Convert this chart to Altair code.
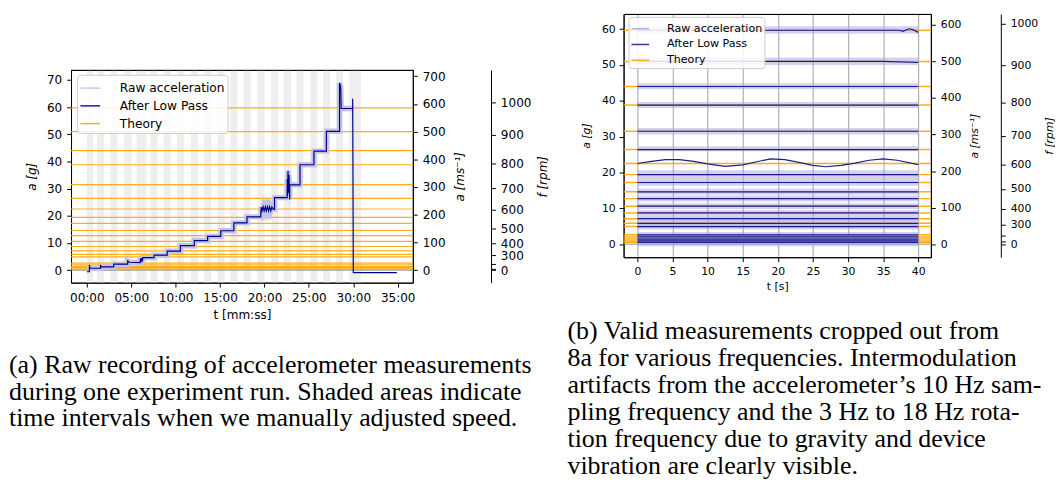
import altair as alt
import pandas as pd

FONT = "DejaVu Sans"
SERIF = "Liberation Serif"
CDOM = ["Raw acceleration", "After Low Pass", "Theory"]
G0 = 9.81            # m/s^2 per g
K_RPM = 61.565e-6    # g per rpm^2 (a = K f^2)

# ---------------- (a) raw recording (t in minutes, a in g) ----------------
lp_points_a = [
    (0.0, -0.6), (0.29, -0.6), (0.29, 1.9), (0.34, 0.7), (1.55, 0.7), (1.55, 1.9), (1.6, 1.2),
    (3.03, 1.2), (3.03, 2.2), (4.6, 2.2), (4.6, 3.4), (4.8, 2.9), (6.0, 2.8), (6.03, 4.3),
    (6.09, 2.9), (6.16, 4.5), (6.24, 3.2), (6.32, 4.6), (7.57, 4.6), (7.57, 5.5), (9.05, 5.5),
    (9.05, 7.0), (10.53, 7.0), (10.53, 9.0), (12.1, 9.0), (12.1, 10.9), (13.6, 10.9), (13.6, 12.4),
    (15.08, 12.4), (15.08, 14.5), (16.55, 14.5), (16.55, 17.4), (18.03, 17.4), (18.03, 19.6),
    (19.58, 19.6), (19.62, 23.2), (19.72, 21.8), (19.85, 23.3), (19.96, 21.8), (20.1, 23.3),
    (20.2, 21.8), (20.34, 23.3), (20.45, 21.8), (20.58, 23.3), (20.7, 21.8), (20.84, 23.2),
    (21.0, 22.4), (21.13, 22.4), (21.13, 26.7), (22.55, 26.7), (22.56, 33.5), (22.6, 27.5),
    (22.65, 36.6), (22.7, 28.5), (22.76, 35.0), (22.8, 30.5), (22.84, 26.0), (22.84, 31.4),
    (24.0, 31.4), (24.0, 38.8), (25.57, 38.8), (25.57, 43.8), (26.97, 43.8), (26.97, 51.1),
    (28.45, 51.1), (28.45, 68.9), (28.58, 67.5), (28.64, 59.5), (29.93, 59.5), (29.93, 63.1),
    (30.0, -0.9), (34.9, -0.9),
]
raw_points_a = lp_points_a[2:-3]

shade_start = [0.0, 1.15, 2.65, 4.2, 5.6, 7.15, 8.65, 10.15, 11.7, 13.2, 14.7, 16.15, 17.65,
               19.2, 20.75, 22.15, 23.6, 25.15, 26.6, 28.05, 29.55]
shade_end = [0.7, 1.95, 3.45, 5.0, 6.7, 7.95, 9.45, 10.95, 12.5, 14.0, 15.5, 16.95, 18.45,
             20.0, 21.55, 23.0, 24.4, 25.95, 27.4, 28.85, 30.85]

theory_g = [59.7, 51.0, 44.0, 38.8, 31.5, 26.4, 22.5, 19.4, 17.2, 14.6, 12.7, 10.6, 8.7, 7.1,
            5.8, 4.9, 2.6, 2.0, 1.4, 0.9, 0.5]

# axis limits (data units)
TDOM_A = [-1.78, 36.7]     # minutes
GDOM_A = [-4.6, 73.7]      # g
TDOM_B = [-1.97, 41.8]     # seconds
GDOM_B = [-3.66, 64.24]    # g

# ---------------- (b) valid 40 s crops (t in seconds, a in g) ----------------
crop_t = [0, 40]
raw_lo_b = [58.7, 50.0, 43.2, 38.0, 30.6, 25.9, 18.2, 16.3, 13.8, 11.9, 9.8, 7.9, 6.3, 5.0,
            4.1, 1.8, 1.2, 0.4, -0.1, -0.6]
raw_hi_b = [60.8, 52.1, 44.9, 39.7, 32.4, 27.3, 20.6, 18.2, 15.5, 13.6, 11.4, 9.5, 7.9, 6.6,
            5.7, 3.4, 2.9, 2.3, 1.9, 1.5]
flat_levels_b = [44.0, 38.8, 31.5, 26.4, 19.4, 17.2, 14.6, 12.7, 10.6, 8.7, 7.1, 5.8, 4.9,
                 2.6, 2.0, 1.4, 0.9, 0.5]
lp60_t = [0, 37.3, 37.8, 38.7, 39.3, 40]
lp60_g = [59.7, 59.7, 59.4, 60.1, 59.8, 59.1]
lp51_t = [0, 35, 40]
lp51_g = [51.0, 51.0, 50.7]
lp22_t = [0, 2, 4, 6, 8, 10, 12.5, 15, 17, 19, 21, 23, 25, 26.8, 29, 31, 33, 35, 37, 40]
lp22_g = [22.5, 23.1, 23.6, 23.6, 23.1, 22.4, 21.7, 22.1, 23.0, 23.8, 23.6, 22.8, 22.0, 21.6,
          22.0, 22.6, 23.4, 23.8, 23.4, 22.2]

ms_ticks_a = [0, 100, 200, 300, 400, 500, 600, 700]
ms_ticks_b = [0, 100, 200, 300, 400, 500, 600]
rpm_ticks = [0, 100, 200, 300, 400, 500, 600, 700, 800, 900, 1000]

caption_a = ["(a) Raw recording of accelerometer measurements",
             "during one experiment run.  Shaded areas indicate",
             "time intervals when we manually adjusted speed."]
caption_b = ["(b) Valid measurements cropped out from",
             "8a for various frequencies. Intermodulation",
             "artifacts from the accelerometer’s 10 Hz sam-",
             "pling frequency and the 3 Hz to 18 Hz rota-",
             "tion frequency due to gravity and device",
             "vibration are clearly visible."]


def sgn_sqrt(v):
    return (abs(v) / K_RPM) ** 0.5 * (1 if v >= 0 else -1)


# ---------------- tables ----------------
lp_a = pd.DataFrame({"t": [p[0] for p in lp_points_a], "g": [p[1] for p in lp_points_a],
                     "series": "After Low Pass"})
lp_a["i"] = range(len(lp_a))
raw_a = pd.DataFrame({"t": [p[0] for p in raw_points_a], "g": [p[1] for p in raw_points_a],
                      "series": "Raw acceleration"})
raw_a["i"] = range(len(raw_a))
shade_a = pd.DataFrame({"t": shade_start, "t2": shade_end, "g": GDOM_A[0], "g2": GDOM_A[1]})


def theory_table(tdom):
    d = pd.DataFrame({"g": theory_g, "t": tdom[0], "t2": tdom[1], "series": "Theory"})
    d["ms"] = d["g"] * G0
    d["rpm"] = [sgn_sqrt(v) for v in d["g"]]
    return d


theory_a = theory_table(TDOM_A)
theory_b = theory_table(TDOM_B)
zero_a = pd.DataFrame({"g": [0.0], "t": TDOM_A[0], "t2": TDOM_A[1]})
zero_b = pd.DataFrame({"g": [0.0], "t": TDOM_B[0], "t2": TDOM_B[1]})

raw_b = pd.DataFrame({"t": crop_t[0], "t2": crop_t[1], "g": raw_lo_b, "g2": raw_hi_b,
                      "series": "Raw acceleration"})
rows = []
for k, L in enumerate(flat_levels_b):
    rows.append({"level": f"f{k}", "t": crop_t[0], "g": L, "i": 0})
    rows.append({"level": f"f{k}", "t": crop_t[1], "g": L, "i": 1})
for name, ts, gs in [("l60", lp60_t, lp60_g), ("l51", lp51_t, lp51_g), ("l22", lp22_t, lp22_g)]:
    for j, (t, g) in enumerate(zip(ts, gs)):
        rows.append({"level": name, "t": t, "g": g, "i": j})
lp_b = pd.DataFrame(rows)
lp_b["series"] = "After Low Pass"

AX = dict(labelFont=FONT, titleFont=FONT, labelColor="black", titleColor="black",
          tickColor="black", domainColor="black", tickSize=4.5, tickWidth=1, domainWidth=1,
          labelOverlap=False, labelFlush=False, titleFontWeight="normal")
RPM_EXPR = "datum.value == 100 || datum.value == 200 ? '' : datum.label"
TOP_BORDER = alt.Axis(orient="top", ticks=False, labels=False, domain=True, domainColor="black",
                      domainWidth=1, title=None, grid=False, zindex=1)


def legend(fs, x, y, size, rowpad, offset, pad):
    return alt.Legend(title=None, orient="none", legendX=x, legendY=y, symbolType="stroke",
                      symbolSize=size, symbolStrokeWidth=1.5, labelFont=FONT, labelFontSize=fs,
                      labelColor="black", labelOffset=offset, rowPadding=rowpad, padding=pad,
                      strokeColor="#cccccc", fillColor="rgba(255,255,255,0.85)", cornerRadius=3)


def sc(dom):
    return alt.Scale(domain=dom, nice=False, zero=False)


def right_axes(ms_ticks, fs, ms_pad, rpm_off, rpm_pad):
    ms_ax = alt.Axis(orient="right", values=ms_ticks, title="a [ms⁻¹]", titleFontStyle="italic",
                     labelFontSize=fs, titleFontSize=fs, titlePadding=ms_pad, labelPadding=5,
                     titleAngle=270, titleBaseline="top", grid=False, **AX)
    rpm_ax = alt.Axis(orient="right", offset=rpm_off, values=rpm_ticks, format="d",
                      labelExpr=RPM_EXPR, title="f [rpm]", titleFontStyle="italic",
                      labelFontSize=fs, titleFontSize=fs, titlePadding=rpm_pad, labelPadding=5,
                      titleAngle=270, titleBaseline="top", grid=False, **AX)
    return ms_ax, rpm_ax


# ================= panel (a) =================
xax_a = alt.Axis(values=list(range(0, 36, 5)),
                 labelExpr="(datum.value < 10 ? '0' : '') + datum.value + ':00'",
                 title="t [mm:ss]", labelFontSize=12.2, titleFontSize=12.2, titlePadding=5,
                 labelPadding=5, grid=False, zindex=1, **AX)
yax_a = alt.Axis(orient="left", values=list(range(0, 71, 10)), title="a [g]",
                 titleFontStyle="italic", labelFontSize=12.2, titleFontSize=12.2,
                 titlePadding=8, labelPadding=5, grid=False, **AX)
ms_ax_a, rpm_ax_a = right_axes(ms_ticks_a, 12.2, 9, 79.4, 6)
cs_a = alt.Scale(domain=CDOM, range=["#c3c3e3", "#00008b", "#ffa500"])
leg_a = legend(12.4, 6, 5, 400, -3, 19, 2.5)


def Xa(axis=None):
    return alt.X("t:Q", scale=sc(TDOM_A), axis=axis)


def Ya(axis=None):
    return alt.Y("g:Q", scale=sc(GDOM_A), axis=axis)


Ca = alt.Color("series:N", scale=cs_a, legend=leg_a)

shade_l = alt.Chart(shade_a).mark_rect(color="#eeeeee").encode(
    x=Xa(xax_a), x2="t2:Q", y=Ya(yax_a), y2="g2:Q")
theory_l = alt.Chart(theory_a).mark_rule(strokeWidth=1.2, opacity=0.9).encode(
    x=Xa(), x2="t2:Q", y=Ya(), color=Ca)
zero_l = alt.Chart(zero_a).mark_rule(color="#888888", strokeWidth=1).encode(
    x=Xa(TOP_BORDER), x2="t2:Q", y=Ya())
raw_l = alt.Chart(raw_a).mark_line(strokeWidth=5.5).encode(
    x=Xa(), y=Ya(), order="i:Q", color=Ca)
lp_l = alt.Chart(lp_a).mark_line(strokeWidth=1.2).encode(
    x=Xa(), y=Ya(), order="i:Q", color=Ca)
ms_a = alt.Chart(theory_a).mark_rule(opacity=0).encode(
    x=Xa(), x2="t2:Q", y=alt.Y("ms:Q", scale=sc([GDOM_A[0] * G0, GDOM_A[1] * G0]), axis=ms_ax_a))
rpm_a = alt.Chart(theory_a).mark_rule(opacity=0).encode(
    x=Xa(), x2="t2:Q",
    y=alt.Y("rpm:Q", scale=alt.Scale(type="pow", exponent=2,
                                     domain=[sgn_sqrt(GDOM_A[0]), sgn_sqrt(GDOM_A[1])],
                                     nice=False, zero=False), axis=rpm_ax_a))

panel_a = alt.layer(shade_l, theory_l, zero_l, raw_l, lp_l, ms_a, rpm_a).resolve_scale(
    x="independent", y="independent").properties(
    width=347, height=216,
    title=alt.TitleParams(caption_a, orient="bottom", anchor="start", frame="group", dx=-63,
                          offset=32, font=SERIF, fontSize=26.3, lineHeight=27,
                          fontWeight="normal", color="black"))

# ================= panel (b) =================
xax_b = alt.Axis(values=list(range(0, 41, 5)), title="t [s]", labelFontSize=11,
                 titleFontSize=11, titlePadding=4, labelPadding=4, grid=True,
                 gridColor="#b0b0b0", gridWidth=1.2, **AX)
yax_b = alt.Axis(orient="left", values=list(range(0, 61, 10)), title="a [g]",
                 titleFontStyle="italic", labelFontSize=11, titleFontSize=11, titlePadding=10,
                 labelPadding=4, grid=False, **AX)
ms_ax_b, rpm_ax_b = right_axes(ms_ticks_b, 11, 8, 71, 6)
cs_b = alt.Scale(domain=CDOM, range=["#a8a8e4", "#1c1c8c", "#ffa500"])
leg_b = legend(11.3, 5, 3, 324, -2.8, 17, 2)


def Xb(axis=None):
    return alt.X("t:Q", scale=sc(TDOM_B), axis=axis)


def Yb(axis=None):
    return alt.Y("g:Q", scale=sc(GDOM_B), axis=axis)


Cb = alt.Color("series:N", scale=cs_b, legend=leg_b)

theory_r = alt.Chart(theory_b).mark_rule(strokeWidth=1.5, opacity=0.9).encode(
    x=Xb(xax_b), x2="t2:Q", y=Yb(yax_b), color=Cb)
zero_r = alt.Chart(zero_b).mark_rule(color="#888888", strokeWidth=1).encode(
    x=Xb(TOP_BORDER), x2="t2:Q", y=Yb())
raw_r = alt.Chart(raw_b).mark_rect(opacity=0.5).encode(
    x=Xb(), x2="t2:Q", y=Yb(), y2="g2:Q", color=Cb)
lp_r = alt.Chart(lp_b).mark_line(strokeWidth=1.2).encode(
    x=Xb(), y=Yb(), detail="level:N", order="i:Q", color=Cb)
ms_b = alt.Chart(theory_b).mark_rule(opacity=0).encode(
    x=Xb(), x2="t2:Q", y=alt.Y("ms:Q", scale=sc([GDOM_B[0] * G0, GDOM_B[1] * G0]), axis=ms_ax_b))
rpm_b = alt.Chart(theory_b).mark_rule(opacity=0).encode(
    x=Xb(), x2="t2:Q",
    y=alt.Y("rpm:Q", scale=alt.Scale(type="pow", exponent=2,
                                     domain=[sgn_sqrt(GDOM_B[0]), sgn_sqrt(GDOM_B[1])],
                                     nice=False, zero=False), axis=rpm_ax_b))

panel_b = alt.layer(theory_r, zero_r, raw_r, lp_r, ms_b, rpm_b).resolve_scale(
    x="independent", y="independent").properties(
    width=312, height=247,
    title=alt.TitleParams(caption_b, orient="bottom", anchor="start", frame="group", dx=-57,
                          offset=28, font=SERIF, fontSize=26.3, lineHeight=27.4,
                          fontWeight="normal", color="black", subtitle="\u00a0",
                          subtitleFontSize=6, subtitlePadding=2))

chart = alt.hconcat(panel_a, panel_b, spacing=17, center=True).resolve_scale(
    color="independent").properties(
    padding={"left": 0, "top": 1, "right": 0, "bottom": 0}, background="white"
).configure_view(stroke="black", strokeWidth=1)

chart.save("out.html", embed_options={"renderer": "svg", "actions": False})
